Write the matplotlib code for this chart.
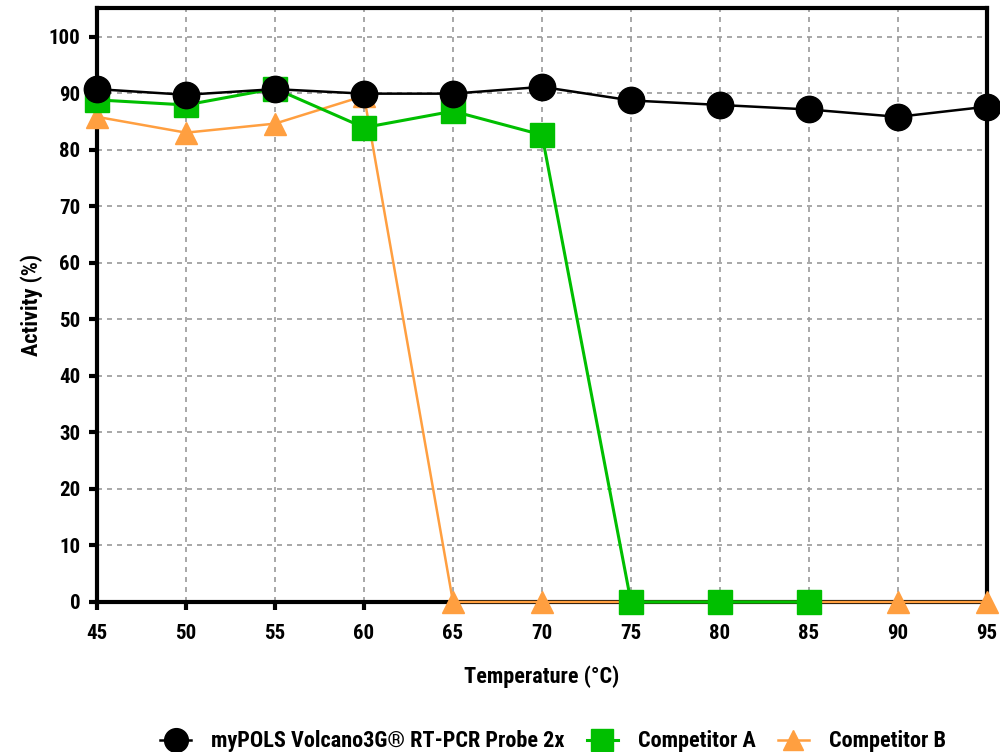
import matplotlib
matplotlib.use("Agg")
import matplotlib.pyplot as plt
from matplotlib import font_manager as fm

temps = [45, 50, 55, 60, 65, 70, 75, 80, 85, 90, 95]
mypols = [90.7, 89.7, 90.7, 89.9, 89.9, 91.1, 88.7, 87.9, 87.1, 85.8, 87.6]
comp_a_temps = [45, 50, 55, 60, 65, 70, 75, 80, 85]
comp_a = [88.8, 87.9, 90.8, 83.9, 86.8, 82.6, 0, 0, 0]
comp_b = [85.8, 83.0, 84.6, 89.5, 0, 0, 0, 0, 0, 0, 0]
labels = ["myPOLS Volcano3G® RT-PCR Probe 2x", "Competitor A", "Competitor B"]

names = {f.name for f in fm.fontManager.ttflist}
cands = ["Roboto Condensed", "Liberation Sans Narrow", "Open Sans Condensed", "Roboto", "DejaVu Sans"]
fam = [c for c in cands if c in names] or ["DejaVu Sans"]
if "DejaVu Sans" not in fam:
    fam.append("DejaVu Sans")
plt.rcParams['font.family'] = fam
plt.rcParams['font.weight'] = 'bold'

fig = plt.figure(figsize=(10, 7.52), dpi=100)
ax = fig.add_axes([0.097, 0.1995, 0.89, 0.7895])

lb, = ax.plot(temps, comp_b, color='#FF9F40', lw=1.8, marker='^', ms=16,
              mec='#FF9F40', zorder=3, clip_on=False, label=labels[2])
la, = ax.plot(comp_a_temps, comp_a, color='#00BF00', lw=2.2, marker='s', ms=17,
              mec='#00BF00', zorder=4, clip_on=False, label=labels[1])
lm, = ax.plot(temps, mypols, color='black', lw=1.8, marker='o', ms=19,
              zorder=5, clip_on=False, label=labels[0])

ax.set_xlim(45, 95)
ax.set_ylim(0, 105)
ax.set_xticks(temps)
ax.set_yticks(range(0, 101, 10))
ax.grid(True, color='#999999', ls=(0, (3, 3)), lw=1.2)
ax.set_axisbelow(True)
for s in ax.spines.values():
    s.set_linewidth(3)
ax.tick_params(axis='both', length=6, width=3, labelsize=15, pad=6)
ax.tick_params(axis='x', pad=10)
for t in ax.get_xticklabels() + ax.get_yticklabels():
    t.set_fontweight('bold')

ax.set_xlabel("Temperature (°C)", fontsize=16, fontweight='bold', labelpad=16)
ax.set_ylabel("Activity (%)", fontsize=16, fontweight='bold', labelpad=4)

fig.legend(handles=[lm, la, lb], labels=labels, loc='lower center',
           bbox_to_anchor=(0.553, -0.027), ncol=3, frameon=False,
           prop={'size': 16, 'weight': 'bold'}, handlelength=1.4, columnspacing=1.0,
           handletextpad=0.9, markerscale=0.9)

fig.savefig("out.png", dpi=100)
